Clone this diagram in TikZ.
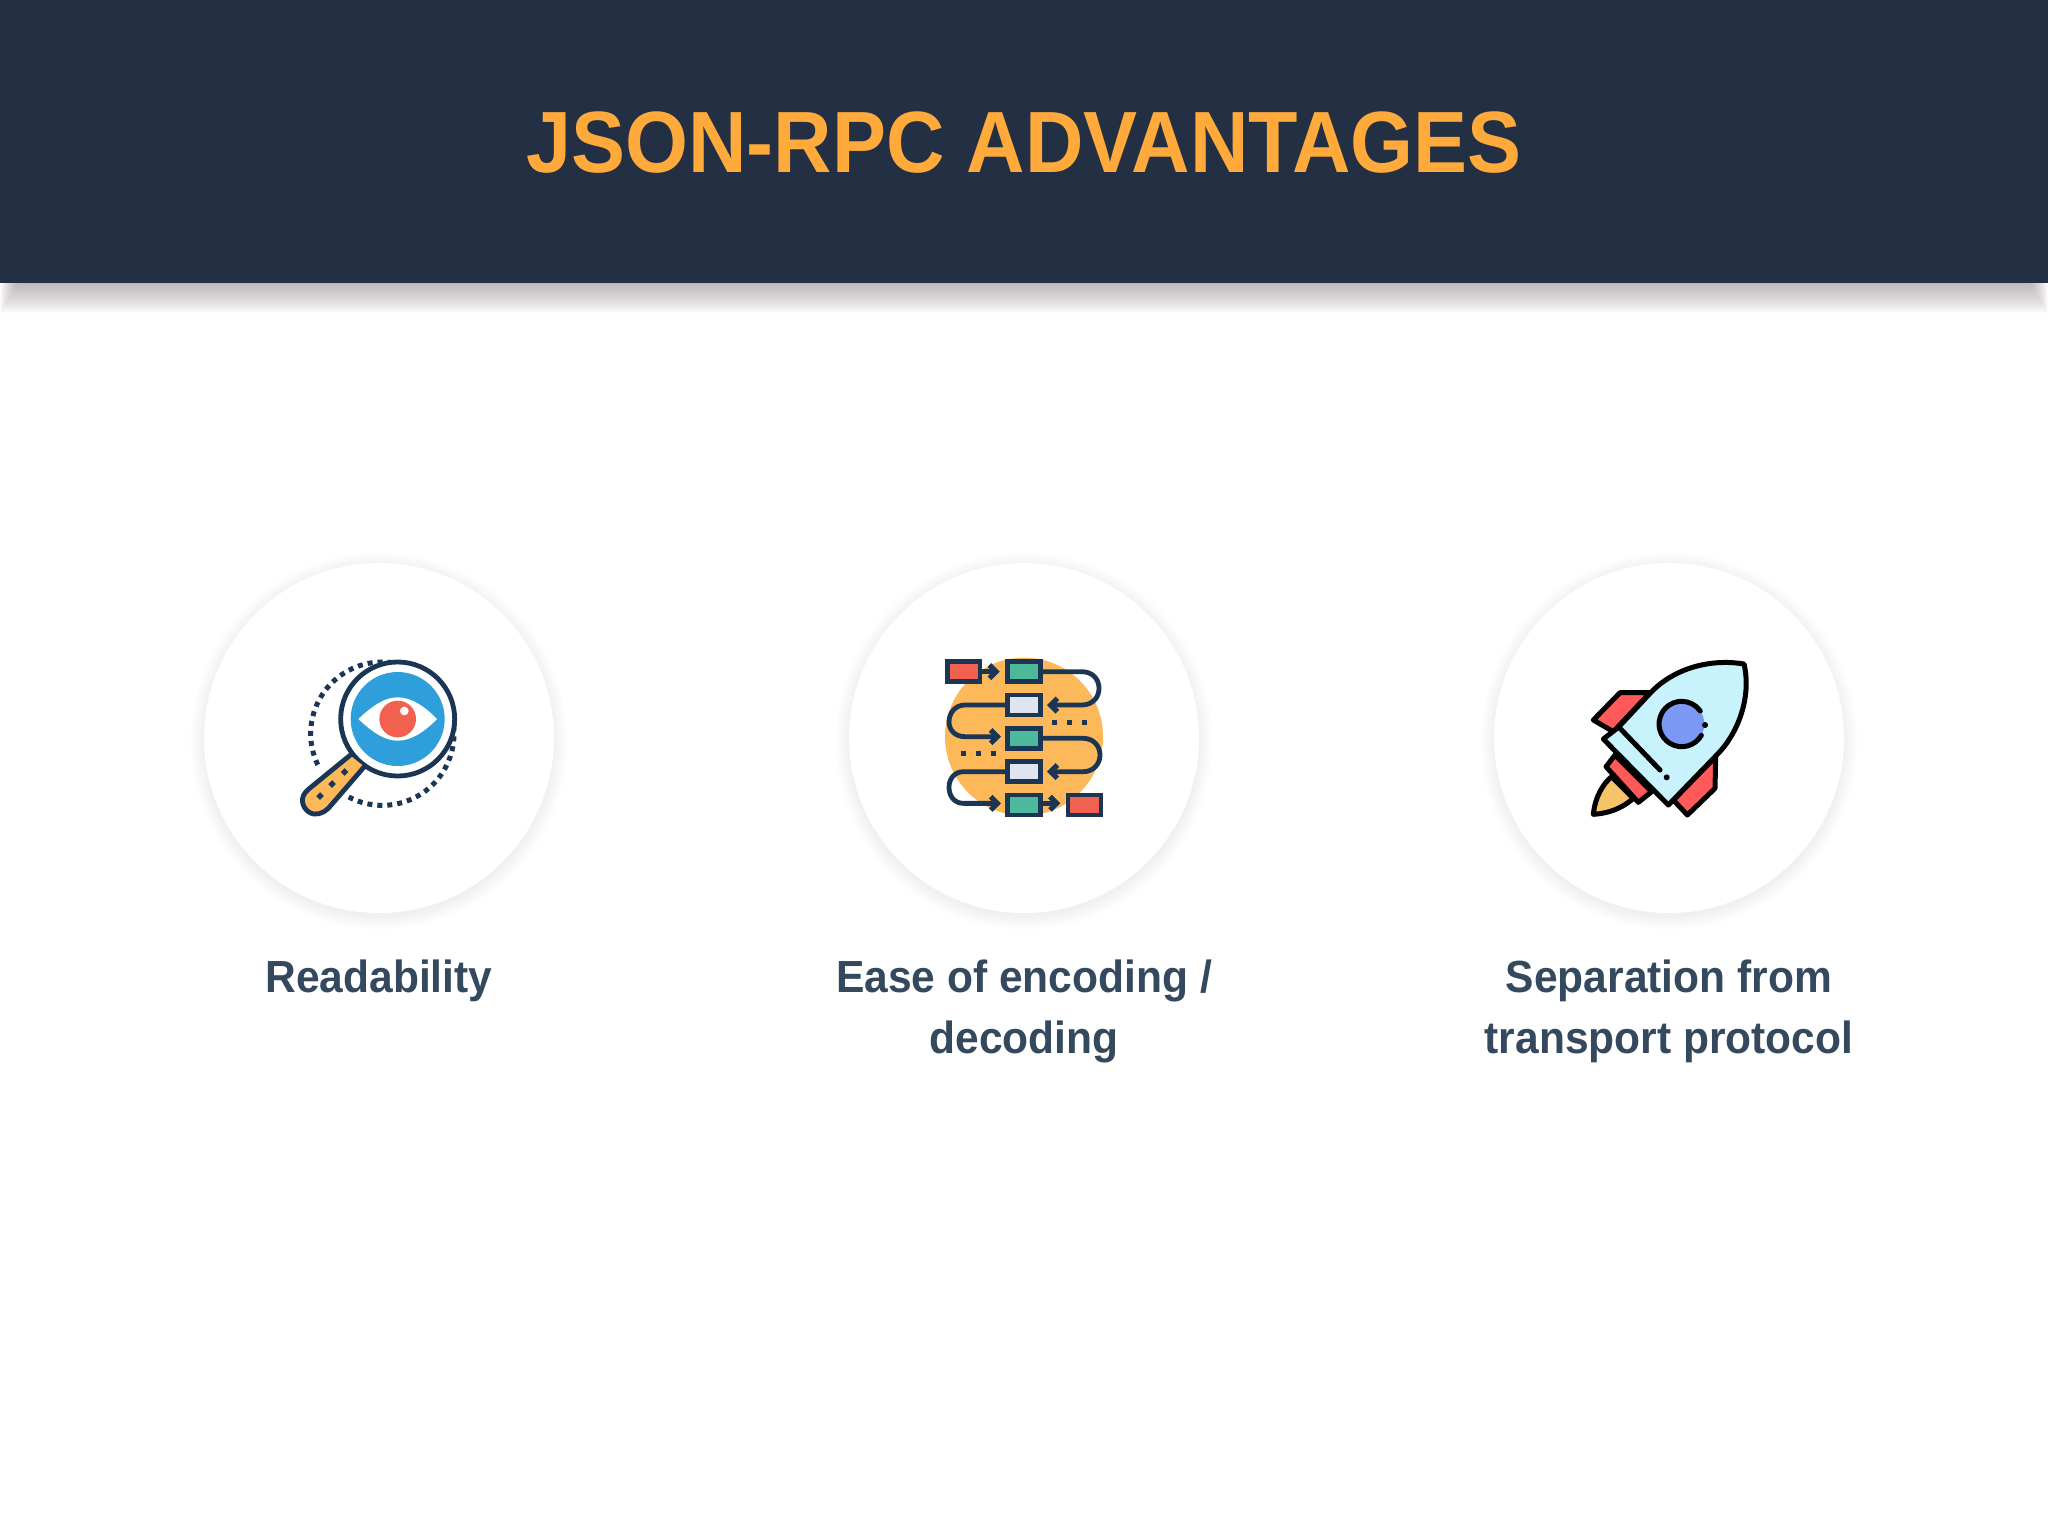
\documentclass[tikz,border=0pt]{standalone}
\usepackage{fontspec}
\setmainfont{Liberation Sans}
\newfontfamily\titlefont[FakeStretch=0.93]{Liberation Sans}
\newfontfamily\labelfont[FakeStretch=0.945]{Liberation Sans}
\definecolor{headbg}{HTML}{233044}
\definecolor{titlecol}{HTML}{FFAA3B}
\definecolor{labelcol}{HTML}{34495E}
\definecolor{icondark}{HTML}{1B3655}
\definecolor{iconorange}{HTML}{FDB859}
\definecolor{iconblue}{HTML}{2E9FDB}
\definecolor{iconred}{HTML}{F2604F}
\definecolor{iconteal}{HTML}{4DB89A}
\definecolor{icongrey}{HTML}{E0E4EE}
\definecolor{rockred}{HTML}{FF5A5A}
\definecolor{rockbody}{HTML}{C9F3FC}
\definecolor{rockblue}{HTML}{7C98F5}
\definecolor{rockflame}{HTML}{F5C469}
\tikzset{
  titletext/.style={inner sep=0pt,anchor=base,text=titlecol,font=\titlefont\fontsize{43.5}{50}\selectfont\bfseries},
  labeltext/.style={inner sep=0pt,anchor=north,align=center,text=labelcol,font=\labelfont\fontsize{22.5}{30.9}\selectfont\bfseries},
  softdisc/.style={fill=black!30!labelcol,opacity=0.0055},
  whitedisc/.style={fill=white},
  zoomscope/.style={x=0.16667pt,y=-0.16667pt},
  ic/.style={draw=icondark,line width=2.4pt,line join=round,line cap=round},
  iconbox/.style={ic,line width=2.4pt,line join=miter},
  chev/.style={ic,line width=2.6pt,line join=miter,line cap=butt},
  rk/.style={draw=black,line width=2.5pt,line join=round,line cap=round},
}
\begin{document}
\begin{tikzpicture}[x=0.5pt,y=-0.5pt]
\useasboundingbox (0,0) rectangle (2048,1536);
\fill[white] (0,0) rectangle (2048,1536);
% header shadow
\foreach \i in {0,...,29}{
  \fill[black!85!magenta,opacity=0.012] ({\i*0.6},280) rectangle ({2048-\i*0.6},{313-\i});
}
\fill[headbg] (0,0) rectangle (2048,283);
\node[titletext] (title) at (1024,172) {JSON-RPC ADVANTAGES};
% discs
\foreach \cx in {379,1024,1669}{
  \foreach \i in {0,...,14}{
    \fill[softdisc] (\cx,741) circle[radius={175+14-\i}];
  }
  \fill[whitedisc] (\cx,738) circle[radius=175];
}
\node[labeltext] (l1) at (379,959) {Readability};
\node[labeltext] (l2) at (1024,959) {Ease of encoding /\\decoding};
\node[labeltext] (l3) at (1669,959) {Separation from\\transport protocol};

% --- magnifier icon
\begin{scope}[shift={(270,630)},zoomscope]
  \draw[icondark,line width=2.5pt,dash pattern=on 2.5pt off 2.5pt]
    (337,311) ++(242:215 and -215) arc[start angle=118,end angle=-209,radius=215];
  \draw[ic,fill=white] (383,267) circle[radius=171];
  \fill[iconblue] (383,267) circle[radius=141];
  \fill[white] (265,267) .. controls (310,225) and (345,202) .. (383,202)
     .. controls (421,202) and (460,225) .. (501,267)
     .. controls (460,309) and (421,332) .. (383,332)
     .. controls (345,332) and (310,309) .. (265,267) -- cycle;
  \fill[iconred] (383,267) circle[radius=55];
  \fill[white] (403,243) circle[radius=13];
  \draw[ic,fill=iconorange] (240,376) -- (115,478)
     .. controls (88,500) and (95,530) .. (115,545)
     .. controls (135,560) and (160,550) .. (175,535) -- (283,410);
  \foreach \dx/\dy in {150/498,186/462,224/426}{
    \fill[icondark,rotate around={45:(\dx,\dy)}] (\dx-8,\dy-8) rectangle (\dx+8,\dy+8);
  }
\end{scope}

% --- flow icon
\begin{scope}[shift={(920,640)},zoomscope]
  \fill[iconorange] (312,290) circle[radius=237];
  % connectors
  \draw[ic] (367,95) -- (485,95) .. controls (520,95) and (537,120) .. (537,145)
     .. controls (537,170) and (520,195) .. (485,195) -- (395,195);
  \draw[chev] (412,175) -- (392,195) -- (412,215);
  \draw[ic] (258,195) -- (135,195) .. controls (105,195) and (87,220) .. (87,245)
     .. controls (87,270) and (105,290) .. (135,290) -- (232,290);
  \draw[chev] (212,270) -- (232,290) -- (212,310);
  \draw[ic] (367,295) -- (490,295) .. controls (520,295) and (540,318) .. (540,345)
     .. controls (540,372) and (520,395) .. (490,395) -- (395,395);
  \draw[chev] (412,375) -- (392,395) -- (412,415);
  \draw[ic] (258,395) -- (130,395) .. controls (105,395) and (87,415) .. (87,442)
     .. controls (87,470) and (105,490) .. (130,490) -- (232,490);
  \draw[chev] (212,470) -- (232,490) -- (212,510);
  \draw[ic] (183,95) -- (226,95);
  \draw[chev] (208,75) -- (228,95) -- (208,115);
  \draw[ic] (367,490) -- (406,490);
  \draw[chev] (390,470) -- (410,490) -- (390,510);
  % boxes
  \draw[iconbox,fill=iconred]  (82,65) rectangle (180,125);
  \draw[iconbox,fill=iconteal] (263,65) rectangle (362,125);
  \draw[iconbox,fill=icongrey] (263,165) rectangle (362,225);
  \draw[iconbox,fill=iconteal] (263,265) rectangle (362,325);
  \draw[iconbox,fill=icongrey] (263,365) rectangle (362,425);
  \draw[iconbox,fill=iconteal] (263,465) rectangle (362,525);
  \draw[iconbox,fill=iconred]  (444,465) rectangle (543,525);
  \foreach \dx/\dy in {402/248,447/248,492/248,130/341,175/341,221/341}{
    \fill[icondark] (\dx-7.5,\dy-7.5) rectangle (\dx+7.5,\dy+7.5);
  }
\end{scope}

% --- rocket icon
\begin{scope}[shift={(1570,640)},zoomscope]
  \draw[rk,fill=rockflame] (70,523) .. controls (75,470) and (100,430) .. (125,410)
     -- (190,475) .. controls (150,510) and (110,520) .. (70,523) -- cycle;
  \draw[rk,fill=rockred] (70,240) -- (150,158) -- (240,158) -- (130,275) -- cycle;
  \draw[rk,fill=rockred] (437,350) -- (435,445) -- (352,525) -- (310,480) -- cycle;
  \draw[rk,fill=rockred] (108,380) -- (135,345) -- (245,455) -- (205,487) -- cycle;
  \draw[rk,fill=rockbody] (522,72) .. controls (420,55) and (310,85) .. (240,160)
     -- (145,262) -- (100,297) -- (295,495) -- (440,345)
     .. controls (505,280) and (545,170) .. (522,72) -- cycle;
  \draw[rk] (150,265) -- (270,390);
  \fill[black] (290,412) circle[radius=9];
  \fill[rockblue] (335,252) circle[radius=68];
  \draw[rk] (394,286) arc[start angle=30,end angle=325,radius=68];
  \fill[black] (405,255) circle[radius=9];
\end{scope}
\end{tikzpicture}
\end{document}
